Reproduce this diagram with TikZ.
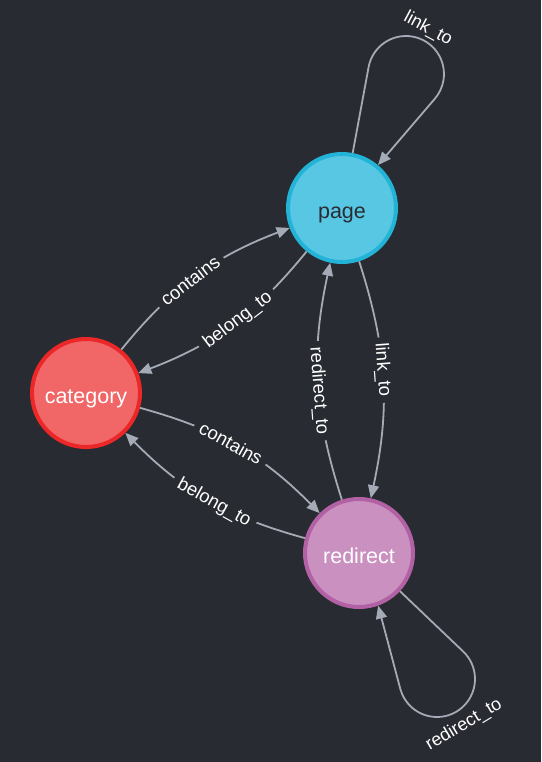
\documentclass[tikz,border=0pt]{standalone}
\usepackage{fontspec}
\setmainfont{Liberation Sans}
\usetikzlibrary{arrows.meta}
\definecolor{bg}{HTML}{292B32}
\definecolor{edgec}{HTML}{A5ABB6}
\definecolor{pagefill}{HTML}{57C7E3}
\definecolor{pagedraw}{HTML}{23B3D7}
\definecolor{catfill}{HTML}{F16667}
\definecolor{catdraw}{HTML}{EB2728}
\definecolor{redfill}{HTML}{C990C0}
\definecolor{reddraw}{HTML}{B261A5}
\definecolor{darktext}{HTML}{2A2C34}
\begin{document}
\begin{tikzpicture}[x=1pt,y=1pt,
  entity/.style={circle, minimum size=108pt, inner sep=0pt, line width=4pt, text height=20.5pt, text depth=0pt, font=\fontsize{21.5}{24}\selectfont},
  rel/.style={draw=edgec, line width=1.8pt, -{Triangle[length=13pt,width=11pt]}},
  lbl/.style={font=\fontsize{18.5}{21}\selectfont, text=white, fill=bg, inner xsep=6pt, inner ysep=1pt, sloped, pos=0.46},
  looplbl/.style={font=\fontsize{18}{21}\selectfont, text=white, inner sep=1pt}]
\fill[bg] (0,0) rectangle (541,-762);
\useasboundingbox (0,0) rectangle (541,-762);
\node[entity, fill=pagefill, draw=pagedraw, text=darktext] (page) at (342,-208) {page};
\node[entity, fill=catfill, draw=catdraw, text=white] (cat) at (86,-393) {category};
\node[entity, fill=redfill, draw=reddraw, text=white] (red) at (359,-553) {redirect};
% self loops
\coordinate (pt1) at (368.6,-67.1);
\draw[rel] (page.79) -- (pt1) arc[start angle=169.5, end angle=-40.5, radius=38] -- (page.50);
\node[looplbl, rotate=-28] (l1) at (428,-29) {link\_to};
\coordinate (rt1) at (463.0,-651.3);
\draw[rel] (red.-43.6) -- (rt1) arc[start angle=46.8, end angle=-164.8, radius=38] -- (red.-70.6);
\node[looplbl, rotate=31] (l8) at (464,-725) {redirect\_to};
% category <-> page
\draw[rel] (cat) to[bend left=15] node[lbl] (l2) {contains} (page);
\draw[rel] (page) to[bend left=15] node[lbl] (l3) {belong\_to} (cat);
% category <-> redirect
\draw[rel] (cat) to[bend left=15] node[lbl] (l4) {contains} (red);
\draw[rel] (red) to[bend left=15] node[lbl] (l5) {belong\_to} (cat);
% page <-> redirect
\draw[rel] (red) to[bend left=15] node[lbl] (l6) {redirect\_to} (page);
\draw[rel] (page) to[bend left=15] node[lbl] (l7) {link\_to} (red);
\end{tikzpicture}
\end{document}
